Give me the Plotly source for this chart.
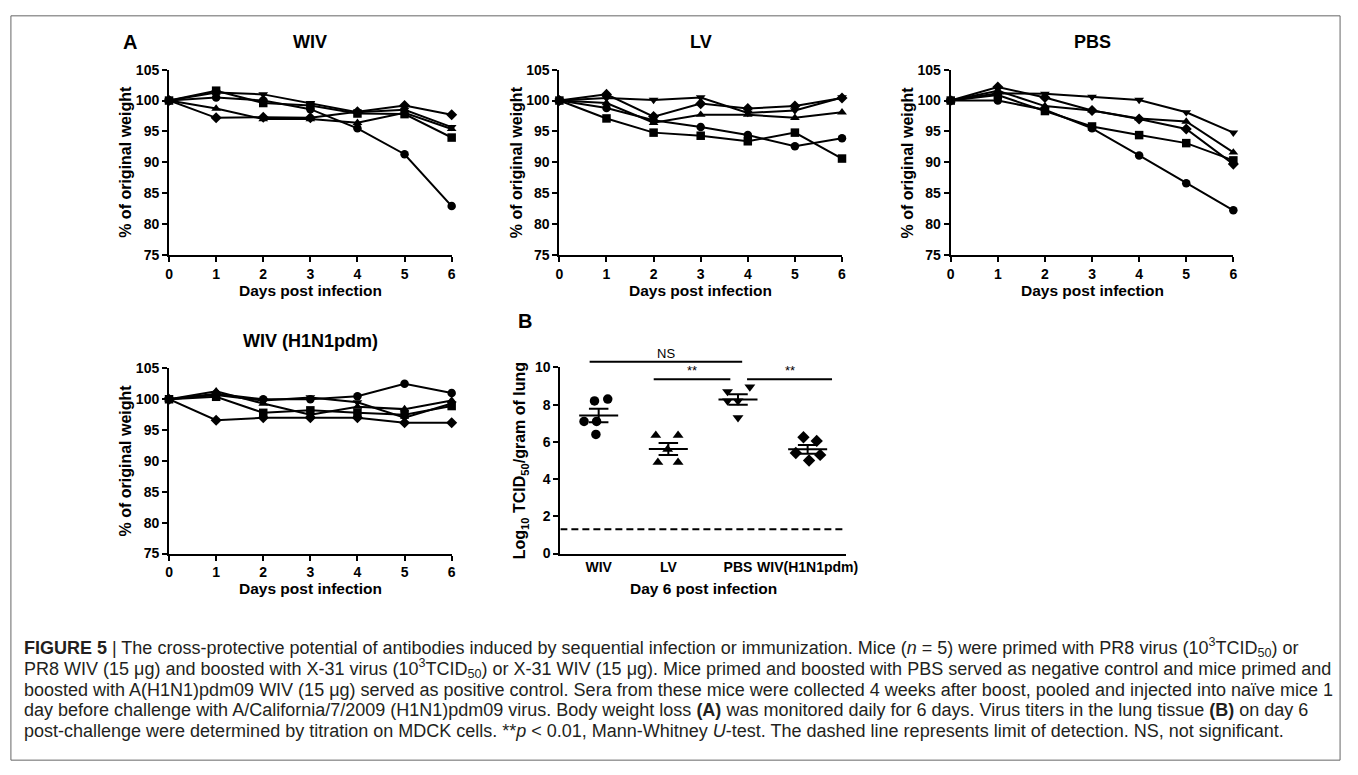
import numpy as np
import plotly.graph_objects as go

W, H = 1358, 775

# ---------------- data ----------------
days = [0, 1, 2, 3, 4, 5, 6]
# each panel: rows = mice (circle, square, triangle-up, triangle-down, diamond)
wiv_weights = [
    [100, 100.5, 100.0, 98.6, 95.5, 91.3, 82.9],
    [100, 101.6, 99.6, 99.2, 97.9, 97.8, 94.0],
    [100, 98.7, 97.0, 97.0, 96.4, 98.0, 95.4],
    [100, 101.3, 101.0, 99.6, 98.1, 98.5, 95.7],
    [100, 97.2, 97.3, 97.2, 98.2, 99.2, 97.7],
]
lv_weights = [
    [100, 98.8, 96.8, 95.7, 94.4, 92.6, 93.9],
    [100, 97.1, 94.8, 94.3, 93.4, 94.8, 90.6],
    [100, 99.6, 96.4, 97.7, 97.7, 97.2, 98.1],
    [100, 100.4, 100.1, 100.5, 98.0, 98.4, 100.5],
    [100, 101.0, 97.4, 99.5, 98.7, 99.1, 100.4],
]
pbs_weights = [
    [100, 100.0, 98.5, 95.5, 91.1, 86.6, 82.2],
    [100, 100.9, 98.3, 95.8, 94.4, 93.1, 90.3],
    [100, 101.6, 99.1, 98.4, 97.1, 96.6, 91.6],
    [100, 101.2, 101.1, 100.6, 100.1, 98.1, 94.8],
    [100, 102.2, 100.5, 98.4, 97.0, 95.4, 89.7],
]
h1n1_weights = [
    [100, 100.9, 100.0, 100.0, 100.5, 102.5, 101.0],
    [100, 100.4, 97.8, 98.2, 97.8, 97.5, 98.9],
    [100, 101.3, 99.3, 97.5, 98.8, 98.4, 99.8],
    [100, 100.7, 99.8, 100.3, 99.5, 97.0, 99.3],
    [100, 96.6, 97.0, 97.0, 97.0, 96.2, 96.2],
]
weight_ticks = [75, 80, 85, 90, 95, 100, 105]

titer_groups = ["WIV", "LV", "PBS", "WIV(H1N1pdm)"]
titer_wiv = [8.2, 8.3, 7.1, 7.1, 6.4]
titer_lv = [6.35, 6.35, 5.6, 4.9, 4.9]
titer_pbs = [8.7, 8.95, 8.2, 8.2, 7.3]
titer_h1n1 = [6.25, 6.05, 5.4, 5.0, 5.3]
detection_limit = 1.3
titer_ticks = [0, 2, 4, 6, 8, 10]

# ---------------- style ----------------
symbols = ["circle", "square", "triangle-up", "triangle-down", "diamond"]
group_symbols = ["circle", "triangle-up", "triangle-down", "diamond"]
jitter = [
    [-0.06, 0.13, -0.21, -0.03, -0.04],
    [-0.18, 0.14, -0.01, -0.15, 0.14],
    [-0.15, 0.17, 0.0, -0.15, 0.0],
    [-0.06, 0.13, -0.17, 0.02, 0.18],
]
BOLD = dict(family="Liberation Sans, Arial, sans-serif", color="black", weight="bold")


def fx(px):
    return px / W


def fy(py):
    return 1 - py / H


def label(px, py, text, size, angle=0, **kw):
    d = dict(x=fx(px), y=fy(py), text=text, showarrow=False, xref="paper", yref="paper",
             xanchor="center", yanchor="middle", textangle=angle,
             font=dict(size=size, **BOLD))
    d.update(kw)
    return d


fig = go.Figure()

# panel pixel boxes: (x0, x1, ytop, ybottom)
panels = [
    (167, 453, 63, 252, wiv_weights, "WIV"),
    (562, 848, 63, 252, lv_weights, "LV"),
    (958, 1244, 63, 252, pbs_weights, "PBS"),
    (167, 453, 368, 557, h1n1_weights, "WIV (H1N1pdm)"),
]

axis_common = dict(showline=True, linewidth=2, linecolor="black", ticks="outside",
                   ticklen=5, tickwidth=2, tickcolor="black", showgrid=False,
                   zeroline=False, tickfont=dict(size=14, **BOLD))

annotations = []
for i, (x0, x1, yt, yb, data, title) in enumerate(panels):
    n = i + 1
    xa = "x" if n == 1 else f"x{n}"
    ya = "y" if n == 1 else f"y{n}"
    for k, row in enumerate(data):
        fig.add_trace(go.Scatter(
            x=days, y=row, mode="lines+markers", xaxis=xa, yaxis=ya,
            line=dict(color="black", width=2),
            marker=dict(symbol=symbols[k], size=8.5, color="black"),
            cliponaxis=False, showlegend=False))
    xkey = "xaxis" if n == 1 else f"xaxis{n}"
    ykey = "yaxis" if n == 1 else f"yaxis{n}"
    fig.update_layout({
        xkey: dict(domain=[fx(x0), fx(x1)], range=[0, 6], tickvals=days,
                   anchor=ya, **axis_common),
        ykey: dict(domain=[fy(yb), fy(yt)], range=[75, 105], tickvals=weight_ticks,
                   anchor=xa, **axis_common),
    })
    cx = (x0 + x1) / 2
    annotations.append(label(cx, yt - 28, title, 18))
    annotations.append(label(cx, yb + 36, "Days post infection", 15.5))
    annotations.append(label(x0 - 44, (yt + yb) / 2, "% of original weight", 16, angle=-90))

# ---------------- panel B ----------------
bx0, bx1, byt, byb = 563, 852, 367, 557
b_xr = (-0.55, 3.55)
b_yr = (0, 10)


def bpx(xv):
    return bx0 + (xv - b_xr[0]) / (b_xr[1] - b_xr[0]) * (bx1 - bx0)


def bpy(yv):
    return byb - (yv - b_yr[0]) / (b_yr[1] - b_yr[0]) * (byb - byt)


groups_vals = [titer_wiv, titer_lv, titer_pbs, titer_h1n1]
for g, vals in enumerate(groups_vals):
    xs = [g + j for j in jitter[g]]
    fig.add_trace(go.Scatter(x=xs, y=vals, mode="markers", xaxis="x5", yaxis="y5",
                             marker=dict(symbol=group_symbols[g], size=9.5, color="black"),
                             cliponaxis=False, showlegend=False))
    arr = np.array(vals)
    m = arr.mean()
    sem = arr.std(ddof=1) / np.sqrt(len(arr))
    fig.add_trace(go.Scatter(x=[g - 0.28, g + 0.28], y=[m, m], mode="lines",
                             xaxis="x5", yaxis="y5", line=dict(color="black", width=2),
                             showlegend=False))
    fig.add_trace(go.Scatter(
        x=[g - 0.14, g + 0.14, None, g - 0.14, g + 0.14, None, g, g],
        y=[m + sem, m + sem, None, m - sem, m - sem, None, m - sem, m + sem],
        mode="lines", xaxis="x5", yaxis="y5", line=dict(color="black", width=2),
        showlegend=False))

fig.add_trace(go.Scatter(x=list(b_xr), y=[detection_limit, detection_limit], mode="lines",
                         xaxis="x5", yaxis="y5",
                         line=dict(color="black", width=2, dash="7px,4px"),
                         showlegend=False))

fig.update_layout(
    xaxis5=dict(domain=[fx(bx0), fx(bx1)], range=list(b_xr),
                tickvals=list(range(len(titer_groups))), ticktext=titer_groups,
                anchor="y5", showline=True, linewidth=2, linecolor="black", ticks="",
                showgrid=False, zeroline=False, tickfont=dict(size=14, **BOLD)),
    yaxis5=dict(domain=[fy(byb), fy(byt)], range=list(b_yr), tickvals=titer_ticks,
                anchor="x5", **axis_common),
)

# significance bars (drawn in paper space so the NS bar above the axis top is visible)
sig = [(-0.13, 2.06, 10.3, "NS"), (0.79, 1.89, 9.37, "**"), (2.13, 3.35, 9.37, "**")]
shapes = []
for a, b, yv, lab in sig:
    shapes.append(dict(type="line", xref="paper", yref="paper",
                       x0=fx(bpx(a)), x1=fx(bpx(b)), y0=fy(bpy(yv)), y1=fy(bpy(yv)),
                       line=dict(color="black", width=2)))
    annotations.append(dict(x=fx(bpx((a + b) / 2)), y=fy(bpy(yv) - 9), xref="paper",
                            yref="paper", text=lab, showarrow=False,
                            xanchor="center", yanchor="middle",
                            font=dict(size=13, family="Liberation Sans, Arial", color="black")))

annotations.append(label((bx0 + bx1) / 2, 593, "Day 6 post infection", 15.5))
annotations.append(label(523, (byt + byb) / 2,
                         "Log<sub>10</sub> TCID<sub>50</sub>/gram of lung", 16, angle=-90))

# panel letters
annotations.append(label(127, 35, "A", 20))
annotations.append(label(527, 320, "B", 20))

# caption
caption_lines = [
    "<b>FIGURE 5</b> | The cross-protective potential of antibodies induced by sequential infection or immunization. Mice (<i>n</i> = 5) were primed with PR8 virus (10<sup>3</sup>TCID<sub>50</sub>) or",
    "PR8 WIV (15 μg) and boosted with X-31 virus (10<sup>3</sup>TCID<sub>50</sub>) or X-31 WIV (15 μg). Mice primed and boosted with PBS served as negative control and mice primed and",
    "boosted with A(H1N1)pdm09 WIV (15 μg) served as positive control. Sera from these mice were collected 4 weeks after boost, pooled and injected into naïve mice 1",
    "day before challenge with A/California/7/2009 (H1N1)pdm09 virus. Body weight loss <b>(A)</b> was monitored daily for 6 days. Virus titers in the lung tissue <b>(B)</b> on day 6",
    "post-challenge were determined by titration on MDCK cells. **<i>p</i> < 0.01, Mann-Whitney <i>U</i>-test. The dashed line represents limit of detection. NS, not significant.",
]
cap_y = [653, 674, 696, 717, 738]
for line, yy in zip(caption_lines, cap_y):
    annotations.append(dict(x=fx(18), y=fy(yy), text=line, showarrow=False, xref="paper",
                            yref="paper", xanchor="left", yanchor="middle", align="left",
                            font=dict(size=18,
                                      family="Liberation Sans Narrow, Liberation Sans, Arial",
                                      color="#231f20")))

shapes.append(dict(type="rect", xref="paper", yref="paper", x0=fx(7), x1=fx(1352),
                   y0=fy(768), y1=fy(8), line=dict(color="#666", width=1)))

fig.update_layout(width=W, height=H, margin=dict(l=0, r=0, t=0, b=0),
                  paper_bgcolor="white", plot_bgcolor="white",
                  annotations=annotations, shapes=shapes, showlegend=False)

fig.write_html("out.html")
